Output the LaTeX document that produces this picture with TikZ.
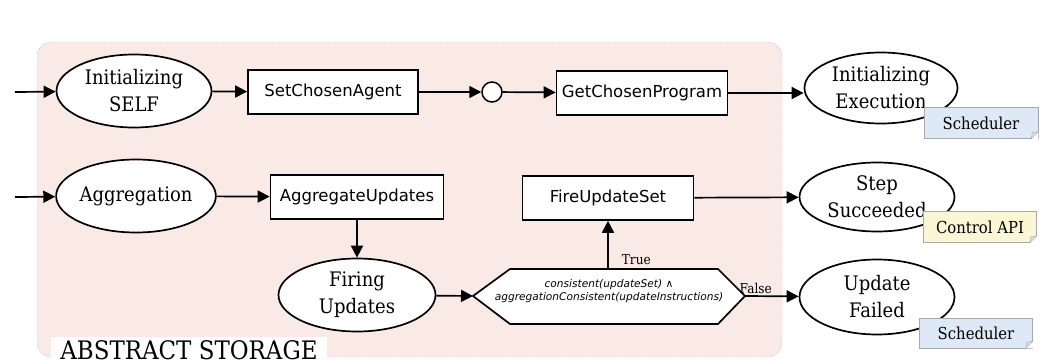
\documentclass[tikz,border=0pt]{standalone}
\usepackage{fontspec}
\setmainfont{DejaVu Serif}[FakeStretch=0.9]
\setsansfont{DejaVu Sans}
\usetikzlibrary{shapes.geometric,arrows.meta,calc}
\definecolor{storagebg}{HTML}{FAEAE6}
\definecolor{noteblue}{HTML}{DDE9F6}
\definecolor{noteyellow}{HTML}{FBF6D4}
\definecolor{noteedge}{HTML}{A8A8A8}
% folded lower-right corner of a note
\newcommand\dogear[1]{%
  \fill[white] (#1.south east) -- ++(-7,0) -- ++(7,-7) -- cycle;
  \filldraw[draw=noteedge, fill=black!12, line width=0.5pt]
    ($(#1.south east)+(-7,0)$) -- ($(#1.south east)+(-6,-6)$) -- ($(#1.south east)+(0,-7)$) -- cycle;}
\begin{document}
\begin{tikzpicture}[x=1pt,y=-1pt,
  state/.style={ellipse, draw, line width=1.7pt, fill=white, minimum width=155pt,
    minimum height=73pt, inner sep=0pt, align=center, font=\fontsize{20}{27}\selectfont},
  action/.style={rectangle, draw, line width=1.6pt, fill=white, minimum width=171pt,
    minimum height=44pt, font=\sffamily\fontsize{16.5}{19}\selectfont},
  junction/.style={circle, draw, line width=1.5pt, fill=white, minimum size=20pt, inner sep=0pt},
  flow/.style={-{Triangle[length=12pt,width=12pt]}, line width=1.7pt},
  note/.style={rectangle, draw=noteedge, line width=0.6pt, minimum width=114pt,
    minimum height=31pt, inner sep=2pt, font=\fontsize{16.5}{19}\selectfont},
  guard/.style={font=\fontsize{13.5}{15}\selectfont, inner sep=1pt}]
\useasboundingbox (0,0) rectangle (1061,364);

% storage region
\draw[densely dotted, gray!80, fill=storagebg, rounded corners=14pt] (37,42) rectangle (782,357);
\node[fill=white, inner xsep=9pt, inner ysep=3pt, font=\fontsize{25.5}{28}\selectfont] (storage) at (189,350) {ABSTRACT STORAGE};

% top row
\coordinate (startSelf) at (15,92);
\node[state] (self) at (134,91) {Initializing\\SELF};
\node[action, minimum width=170pt] (setAgent) at (333,92) {SetChosenAgent};
\node[junction] (join) at (492,92) {};
\node[action] (getProg) at (642,93) {GetChosenProgram};
\node[state, minimum width=153pt, minimum height=71pt] (initExec) at (881,88) {Initializing\\Execution};
\node[note, fill=noteblue] (sched1) at (981,123) {Scheduler};
\dogear{sched1}

% middle row
\coordinate (startAgg) at (15,197);
\node[state] (agg) at (136,196) {Aggregation};
\node[action, minimum width=173pt] (aggUpd) at (357,197) {AggregateUpdates};
\node[action] (fireSet) at (608,198) {FireUpdateSet};
\node[state, minimum height=69pt] (stepOk) at (877,197) {Step\\Succeeded};
\node[note, fill=noteyellow, minimum width=113pt] (ctrl) at (980,227) {Control API};
\dogear{ctrl}

% bottom row
\node[state, minimum width=157pt] (firing) at (357,295) {Firing\\Updates};
\coordinate (hexL) at (473,296);
\coordinate (hexR) at (745,296);
\coordinate (hexT) at (608,269);
\draw[line width=1.7pt, fill=white] (hexL) -- (510,269) -- (718,269) -- (hexR) -- (718,324) -- (510,324) -- cycle;
\node[align=center, inner sep=0pt, font=\sffamily\itshape\fontsize{10.6}{12.5}\selectfont] (cond) at (609,291)
  {consistent(updateSet) ∧\\aggregationConsistent(updateInstructions)};
\node[state, minimum height=75pt] (failed) at (877,297) {Update\\Failed};
\node[note, fill=noteblue, minimum width=113pt, minimum height=30pt] (sched2) at (976,333) {Scheduler};
\dogear{sched2}

% connectors
\draw[flow] (startSelf) -- (self);
\draw[flow] (self) -- (setAgent);
\draw[flow] (setAgent) -- (join);
\draw[flow] (join) -- (getProg);
\draw[flow] (getProg.east) -- (getProg.east -| initExec.west);
\draw[flow] (startAgg) -- (agg);
\draw[flow] (agg) -- (aggUpd);
\draw[flow] (aggUpd) -- (firing);
\draw[flow] (firing) -- (hexL);
\draw[flow] (hexT) -- (fireSet.south) node[guard, pos=0.2, right=12pt] (trueLbl) {True};
\draw[flow] (fireSet) -- (stepOk);
\draw[flow] (hexR) -- (failed) node[guard, pos=0.2, above=1pt] (falseLbl) {False};
\end{tikzpicture}
\end{document}
